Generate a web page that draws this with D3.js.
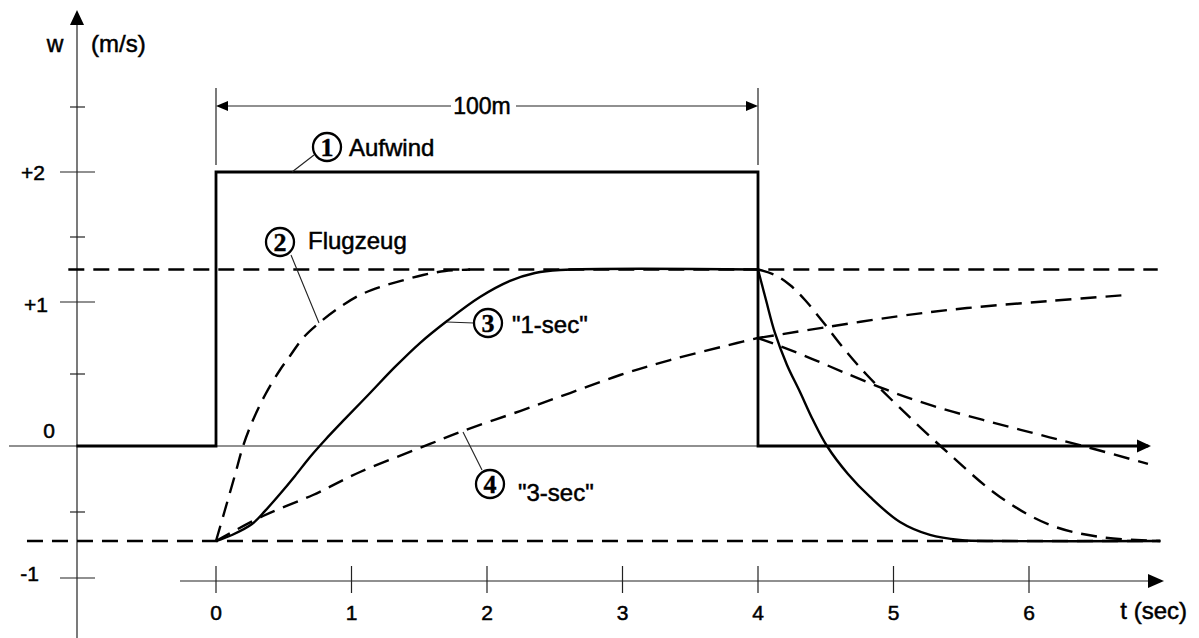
<!DOCTYPE html>
<html>
<head>
<meta charset="utf-8">
<script src="https://cdn.jsdelivr.net/npm/d3@7"></script>
<style>
  html, body { margin: 0; padding: 0; background: #fff; }
  svg { display: block; }
  text { font-family: "Liberation Sans", Arial, sans-serif; fill: #000; stroke: #000; stroke-width: 0.5; }
  .num { font-family: "Liberation Serif", "Times New Roman", serif; font-weight: bold; stroke-width: 0.4; }
</style>
</head>
<body>
<svg id="chart" width="1199" height="638"></svg>
<script>
// ---------- data ----------
const timeTicks = [0, 1, 2, 3, 4, 5, 6];
const yMajorTicks = [-1, 1, 2];
const yMinorTicks = [-0.5, 0.5, 1.5, 2.5];
const yTickLabels = ["-1", "0", "+1", "+2"];
const yTickLabelValues = [-1, 0, 1, 2];

// (1) Aufwind: updraft gust
const aufwindT = [-1.03, 0, 0, 4, 4, 6.88];
const aufwindW = [0, 0, 2, 2, 0, 0];

// (2) Flugzeug: aircraft climb rate
const flugRiseT = [0, 0.066, 0.14, 0.2, 0.273, 0.362, 0.472, 0.546, 0.642, 0.76, 0.915, 1.063, 1.21, 1.358, 1.528, 1.69, 1.875];
const flugRiseW = [-0.72, -0.485, -0.22, 0, 0.18, 0.354, 0.528, 0.625, 0.75, 0.854, 0.965, 1.054, 1.115, 1.16, 1.208, 1.238, 1.25];
const flugFallT = [4, 4.125, 4.236, 4.347, 4.48, 4.642, 4.804, 5.048, 5.395, 5.786, 6.155, 6.524, 6.967];
const flugFallW = [1.25, 1.208, 1.131, 1.015, 0.861, 0.667, 0.493, 0.264, -0.045, -0.386, -0.598, -0.689, -0.72];

// (3) "1-sec" variometer
const oneSecT = [0, 0.118, 0.266, 0.362, 0.472, 0.583, 0.694, 0.805, 0.952, 1.137, 1.321, 1.505, 1.705, 1.948, 2.17, 2.354, 2.539, 4];
const oneSecW = [-0.72, -0.674, -0.591, -0.492, -0.364, -0.227, -0.083, 0.042, 0.188, 0.368, 0.549, 0.715, 0.868, 1.038, 1.162, 1.223, 1.246, 1.25];
const oneSecFallT = [4, 4.059, 4.125, 4.214, 4.31, 4.406, 4.509, 4.664, 4.827, 5.048, 5.269, 5.49, 5.786, 6.97];
const oneSecFallW = [1.25, 1.015, 0.785, 0.563, 0.375, 0.18, 0, -0.212, -0.386, -0.576, -0.674, -0.712, -0.72, -0.72];

// (4) "3-sec" variometer
const threeSecT = [0, 0.347, 0.716, 1.063, 1.579, 1.801, 2.244, 2.613, 2.982, 3.351, 3.845, 4];
const threeSecW = [-0.72, -0.53, -0.371, -0.197, 0.014, 0.097, 0.243, 0.368, 0.493, 0.597, 0.715, 0.75];
const threeSecFallT = [4, 4.162, 4.384, 4.627, 4.952, 5.292, 5.661, 6.03, 6.399, 6.878];
const threeSecFallW = [0.75, 0.694, 0.611, 0.514, 0.389, 0.278, 0.181, 0.09, 0, -0.136];
const threeSecContT = [4, 4.509, 5.048, 5.542, 6.155, 6.723];
const threeSecContW = [0.75, 0.826, 0.903, 0.958, 1.008, 1.054];

// reference levels
const levelClimb = 1.25;
const levelSink = -0.72;

// ---------- scales ----------
const x = d3.scaleLinear().domain([0, 6]).range([216, 1029]);
const y = d3.scaleLinear().domain([-1, 0, 1, 2]).range([578, 446, 302, 172]);

const svg = d3.select("#chart");
const yAxisX = 77;
const tAxisY = 581;

function zip(ts, ws) { return ts.map((t, i) => [t, ws[i]]); }
const lineLin = d3.line().x(d => x(d[0])).y(d => y(d[1]));
const lineSmooth = d3.line().x(d => x(d[0])).y(d => y(d[1])).curve(d3.curveCatmullRom.alpha(0.5));

// ---------- axes ----------
svg.append("line").attr("x1", yAxisX).attr("x2", yAxisX).attr("y1", 22).attr("y2", 638)
  .attr("stroke", "#222").attr("stroke-width", 1.2);
svg.append("path").attr("d", `M${yAxisX},10 L${yAxisX - 7},25 L${yAxisX + 7},25 Z`).attr("fill", "#000");

svg.selectAll(".ymaj").data(yMajorTicks).enter().append("line")
  .attr("x1", 60).attr("x2", 95).attr("y1", d => y(d)).attr("y2", d => y(d))
  .attr("stroke", "#222").attr("stroke-width", 1.2);
svg.selectAll(".ymin").data(yMinorTicks).enter().append("line")
  .attr("x1", 70).attr("x2", 85).attr("y1", d => y(d)).attr("y2", d => y(d))
  .attr("stroke", "#222").attr("stroke-width", 1.2);

const yLabelX = { "-1": 39, "0": 55, "+1": 48, "+2": 45 };
const yLabelDy = { "-1": 2.5, "0": -8.5, "+1": 10, "+2": 7.5 };
svg.selectAll(".ylab").data(yTickLabelValues).enter().append("text")
  .attr("x", (d, i) => yLabelX[yTickLabels[i]])
  .attr("y", (d, i) => y(d) + yLabelDy[yTickLabels[i]])
  .attr("text-anchor", "end").attr("font-size", 21)
  .text((d, i) => yTickLabels[i]);

svg.append("text").attr("x", 55).attr("y", 52).attr("text-anchor", "middle").attr("font-size", 23).text("w");
svg.append("text").attr("x", 91).attr("y", 52).attr("font-size", 24).text("(m/s)");

// zero line (thin) with arrow
svg.append("line").attr("x1", 9).attr("x2", 1140).attr("y1", y(0)).attr("y2", y(0))
  .attr("stroke", "#222").attr("stroke-width", 1.2);
svg.append("path").attr("d", `M1151,${y(0)} L1137,${y(0) - 6.5} L1137,${y(0) + 6.5} Z`).attr("fill", "#000");

// bottom time axis
svg.append("line").attr("x1", 180).attr("x2", 1150).attr("y1", tAxisY).attr("y2", tAxisY)
  .attr("stroke", "#222").attr("stroke-width", 1.2);
svg.append("path").attr("d", `M1164,${tAxisY} L1148,${tAxisY - 7} L1148,${tAxisY + 7} Z`).attr("fill", "#000");
svg.selectAll(".tt").data(timeTicks).enter().append("line")
  .attr("x1", d => x(d)).attr("x2", d => x(d)).attr("y1", tAxisY - 15).attr("y2", tAxisY + 12)
  .attr("stroke", "#222").attr("stroke-width", 1.2);
svg.selectAll(".tl").data(timeTicks).enter().append("text")
  .attr("x", d => x(d)).attr("y", 620).attr("text-anchor", "middle").attr("font-size", 21)
  .text(d => d);
svg.append("text").attr("x", 1187).attr("y", 619).attr("text-anchor", "end").attr("font-size", 24).text("t (sec)");

// ---------- dimension 100m ----------
const dimY = 106;
[0, 4].forEach(t => {
  svg.append("line").attr("x1", x(t)).attr("x2", x(t)).attr("y1", 88).attr("y2", 165)
    .attr("stroke", "#222").attr("stroke-width", 1.2);
});
svg.append("line").attr("x1", x(0) + 8).attr("x2", 451).attr("y1", dimY).attr("y2", dimY)
  .attr("stroke", "#222").attr("stroke-width", 1.2);
svg.append("line").attr("x1", 516).attr("x2", x(4) - 8).attr("y1", dimY).attr("y2", dimY)
  .attr("stroke", "#222").attr("stroke-width", 1.2);
svg.append("path").attr("d", `M${x(0)},${dimY} L${x(0) + 12},${dimY - 5} L${x(0) + 12},${dimY + 5} Z`).attr("fill", "#000");
svg.append("path").attr("d", `M${x(4)},${dimY} L${x(4) - 12},${dimY - 5} L${x(4) - 12},${dimY + 5} Z`).attr("fill", "#000");
svg.append("text").attr("x", 482).attr("y", 114).attr("text-anchor", "middle").attr("font-size", 23).text("100m");

// ---------- reference levels (dashed) ----------
const dash = "16,9";
svg.append("path").attr("d", lineLin([[-1.09, levelClimb], [6.95, levelClimb]]))
  .attr("fill", "none").attr("stroke", "#000").attr("stroke-width", 2.4).attr("stroke-dasharray", dash);
svg.append("path").attr("d", lineLin([[-1.395, levelSink], [6.97, levelSink]]))
  .attr("fill", "none").attr("stroke", "#000").attr("stroke-width", 2.4).attr("stroke-dasharray", dash);

// ---------- curves ----------
svg.append("path").attr("d", lineLin(zip(aufwindT, aufwindW)))
  .attr("fill", "none").attr("stroke", "#000").attr("stroke-width", 2.8).attr("stroke-linejoin", "miter");

function curve(ts, ws, dashed) {
  const p = svg.append("path").attr("d", lineSmooth(zip(ts, ws)))
    .attr("fill", "none").attr("stroke", "#000").attr("stroke-width", 2.4);
  if (dashed) p.attr("stroke-dasharray", dash);
}
curve(flugRiseT, flugRiseW, true);
curve(flugFallT, flugFallW, true);
curve(oneSecT, oneSecW, false);
curve(oneSecFallT, oneSecFallW, false);
curve(threeSecT, threeSecW, true);
curve(threeSecFallT, threeSecFallW, true);
curve(threeSecContT, threeSecContW, true);

// ---------- annotations ----------
const annos = [
  { n: "1", cx: 327, cy: 147, label: "Aufwind", lx: 349, ly: 156, lead: [[314, 155], [292, y(2)]] },
  { n: "2", cx: 280, cy: 242, label: "Flugzeug", lx: 308, ly: 249, lead: [[291, 255], [319, 323]] },
  { n: "3", cx: 488, cy: 323, label: "\"1-sec\"", lx: 512, ly: 333, lead: [[474, 323], [447, 322]] },
  { n: "4", cx: 490, cy: 484, label: "\"3-sec\"", lx: 518, ly: 501, lead: [[482, 470], [463, 432]] }
];
annos.forEach(a => {
  svg.append("line").attr("x1", a.lead[0][0]).attr("y1", a.lead[0][1])
    .attr("x2", a.lead[1][0]).attr("y2", a.lead[1][1])
    .attr("stroke", "#222").attr("stroke-width", 1.1);
  svg.append("circle").attr("cx", a.cx).attr("cy", a.cy).attr("r", 14)
    .attr("fill", "#fff").attr("stroke", "#000").attr("stroke-width", 2.3);
  svg.append("text").attr("class", "num").attr("x", a.cx).attr("y", a.cy + 9)
    .attr("text-anchor", "middle").attr("font-size", 26).text(a.n);
  svg.append("text").attr("x", a.lx).attr("y", a.ly).attr("font-size", 24).text(a.label);
});
</script>
</body>
</html>
